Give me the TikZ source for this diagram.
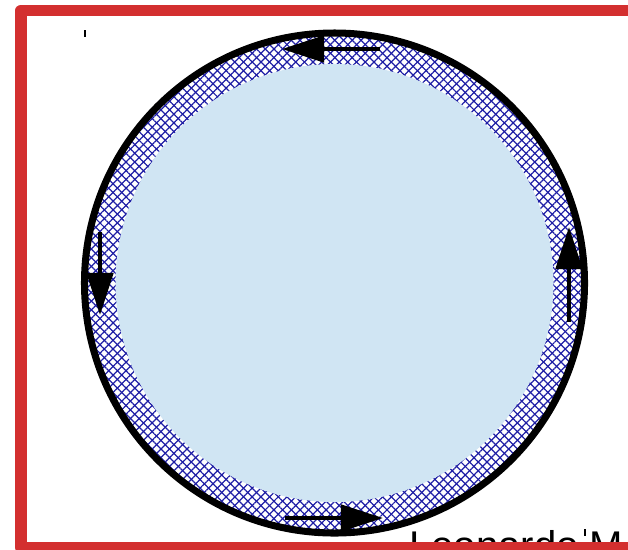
\documentclass[tikz,border=0pt]{standalone}
\usepackage{fontspec}
\setmainfont{Liberation Sans}
\definecolor{rouge}{RGB}{211,47,47}
\definecolor{bleuciel}{RGB}{208,229,243}
\definecolor{bleufonce}{RGB}{30,30,165}
\usetikzlibrary{arrows.meta,patterns.meta}

\begin{document}
\begin{tikzpicture}[x=0.02cm,y=-0.02cm,
				hachure/.style={pattern={Lines[angle=45,distance=3.5pt,line width=0.7pt]},pattern color=bleufonce},
				hachureb/.style={pattern={Lines[angle=-45,distance=3.5pt,line width=0.7pt]},pattern color=bleufonce},
				bord/.style={line width=4pt,black},
				fleche/.style={-{Triangle[length=24pt,width=15pt]},line width=2.3pt,black},
				cadre/.style={draw=rouge,line width=6.5pt,line join=round},
				repere/.style={line width=0.6pt,black}]
				\useasboundingbox (0,0) rectangle (628,549);
				\clip (0,0) rectangle (628,549);
				
				\coordinate (centre) at (334.5,283);
				
				% anneau hachure puis disque interieur
				\fill[hachure] (centre) circle[radius=250];
				\fill[hachureb] (centre) circle[radius=250];
				\fill[bleuciel] (centre) circle[radius=219];
				\draw[bord] (centre) circle[radius=250];
				
				% sens de parcours
				\coordinate (h0) at (380,49);
				\coordinate (h1) at (282,49);
				\coordinate (g0) at (100,232);
				\coordinate (g1) at (100,315);
				\coordinate (b0) at (285,518);
				\coordinate (b1) at (383,518);
				\coordinate (d0) at (569,322);
				\coordinate (d1) at (569,227);
				\draw[fleche] (h0)--(h1);
				\draw[fleche] (g0)--(g1);
				\draw[fleche] (b0)--(b1);
				\draw[fleche] (d0)--(d1);
				
				\node[anchor=base west,inner sep=0pt,font=\fontsize{22.8}{26}\selectfont] (auteur) at (409,559.5){Leonardo M};
				
				\draw[cadre] (21,10.5) rectangle (700,547.5);
				
				\draw[repere] (85,30)--(85,37);
				\draw[repere] (585,529)--(585,536);
			\end{tikzpicture}
\end{document}
